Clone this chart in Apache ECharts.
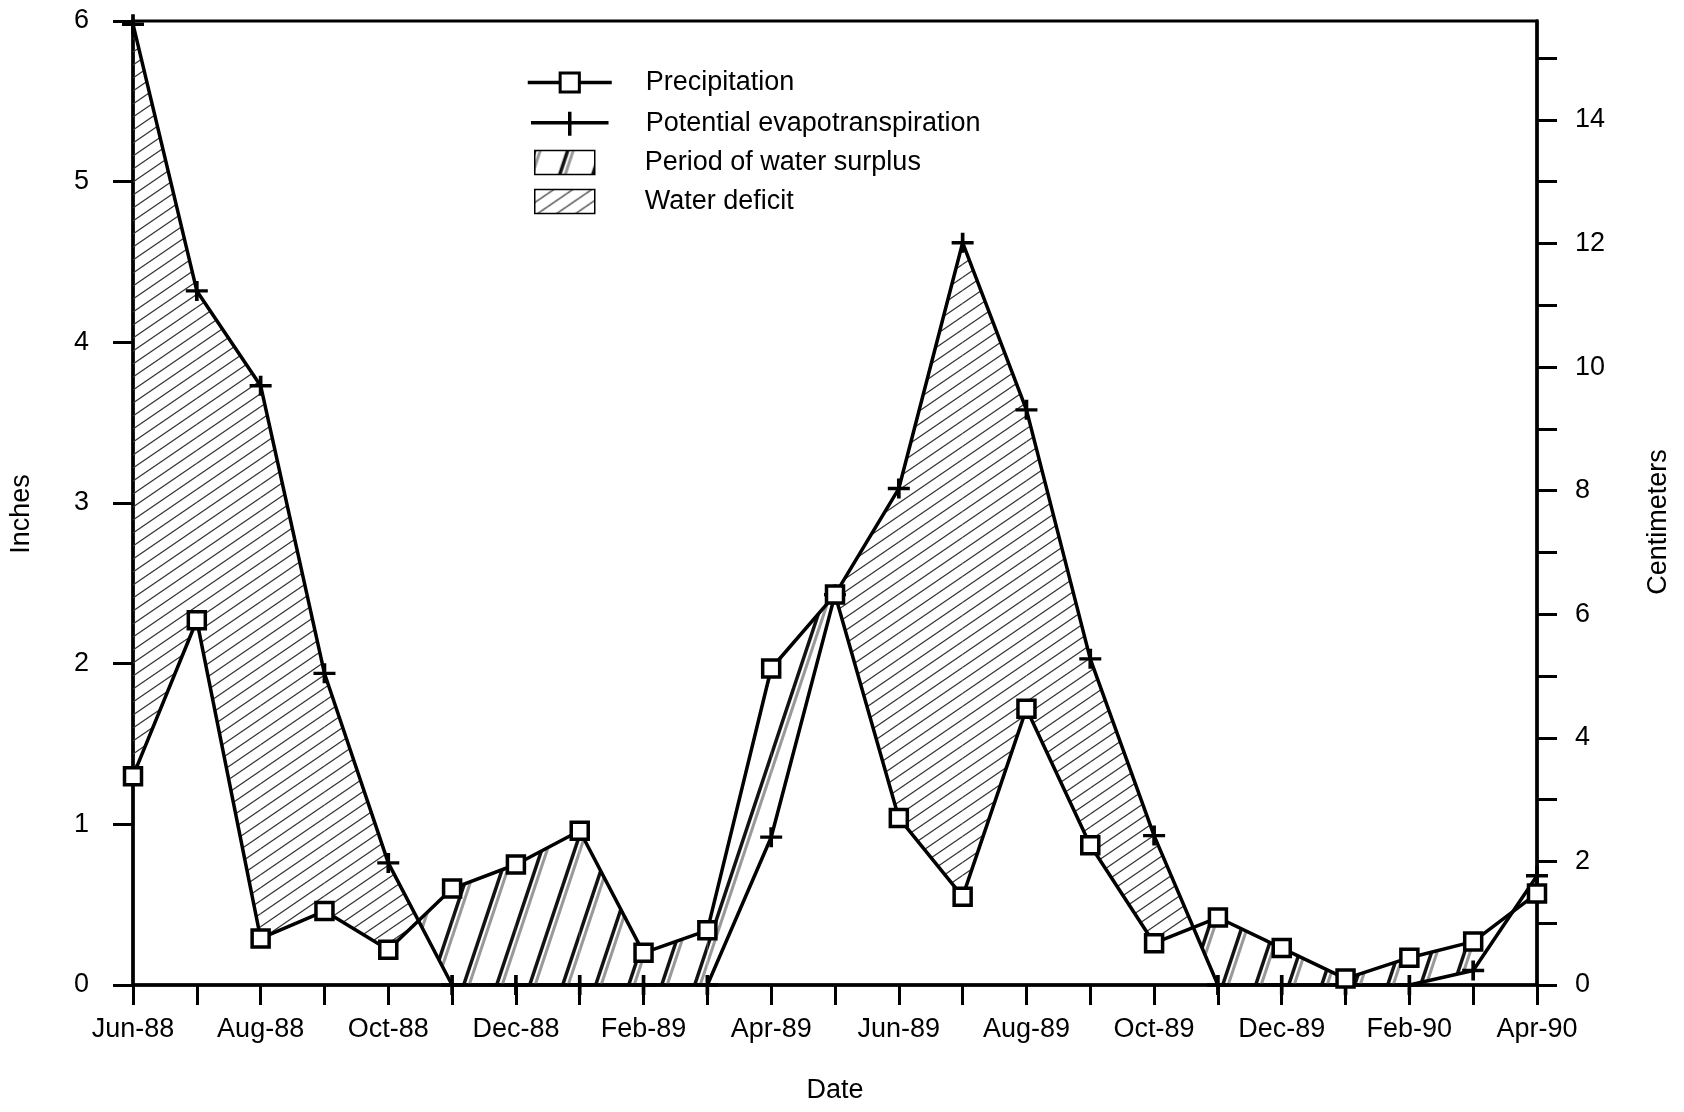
<!DOCTYPE html>
<html>
<head>
<meta charset="utf-8">
<script src="https://cdn.jsdelivr.net/npm/echarts@6/dist/echarts.min.js"></script>
<style>
html, body { margin: 0; padding: 0; background: #fff; }
#chart { width: 1684px; height: 1112px; }
</style>
</head>
<body>
<div id="chart"></div>
<script>
// ---------------- data (inches) ----------------
const months = ['Jun-88','Jul-88','Aug-88','Sep-88','Oct-88','Nov-88','Dec-88','Jan-89','Feb-89','Mar-89','Apr-89','May-89',
                'Jun-89','Jul-89','Aug-89','Sep-89','Oct-89','Nov-89','Dec-89','Jan-90','Feb-90','Mar-90','Apr-90'];
const precipitation = [1.30, 2.27, 0.29, 0.46, 0.22, 0.60, 0.75, 0.96, 0.20, 0.34, 1.97, 2.43,
                       1.04, 0.55, 1.72, 0.87, 0.26, 0.42, 0.23, 0.04, 0.17, 0.27, 0.57];
const evapotranspiration = [5.98, 4.32, 3.73, 1.94, 0.76, 0.00, 0.00, 0.00, 0.00, 0.00, 0.92, 2.43,
                            3.09, 4.62, 3.58, 2.03, 0.93, 0.00, 0.00, 0.00, 0.00, 0.09, 0.68];
const inchTicks = [0, 1, 2, 3, 4, 5, 6];
const cmTicks = [0, 1, 2, 3, 4, 5, 6, 7, 8, 9, 10, 11, 12, 13, 14, 15];
const cmLabels = [0, 2, 4, 6, 8, 10, 12, 14];
const monthLabelIdx = [0, 2, 4, 6, 8, 10, 12, 14, 16, 18, 20, 22];

// ---------------- hatch patterns ----------------
function hatch(w, h, strokes) {
  const c = document.createElement('canvas');
  c.width = w; c.height = h;
  const g = c.getContext('2d');
  strokes.forEach(s => {
    g.strokeStyle = s.color;
    g.lineWidth = s.width;
    for (let k = -3; k <= 3; k++) {
      const x0 = k * w + s.dx;
      g.beginPath();
      g.moveTo(x0 - w, 2 * h);
      g.lineTo(x0 + 2 * w, -h);
      g.stroke();
    }
  });
  return { image: c, repeat: 'repeat' };
}
const deficitFill = hatch(19, 13, [{ color: '#333', width: 1.2, dx: 0 }]);
const surplusFill = hatch(33, 99, [{ color: '#111', width: 3.5, dx: 0 }, { color: '#999', width: 3, dx: 5.5 }]);

function regionRenderer(kind) {
  const want = kind === 'deficit' ? 1 : -1;
  const fill = kind === 'deficit' ? deficitFill : surplusFill;
  const sgn = d => (d > 1e-9 ? 1 : (d < -1e-9 ? -1 : 0));
  return function (params, api) {
    const i = params.dataIndex;
    const p0 = precipitation[i], p1 = precipitation[i + 1];
    const e0 = evapotranspiration[i], e1 = evapotranspiration[i + 1];
    const d0 = e0 - p0, d1 = e1 - p1;
    const polys = [];
    if (sgn(d0) * sgn(d1) >= 0) {
      const s = sgn(d0) || sgn(d1);
      if (s === want) polys.push([[i, p0], [i + 1, p1], [i + 1, e1], [i, e0]]);
    } else {
      const t = d0 / (d0 - d1);
      const xc = i + t, yc = p0 + t * (p1 - p0);
      if (sgn(d0) === want) polys.push([[i, p0], [xc, yc], [i, e0]]);
      if (sgn(d1) === want) polys.push([[xc, yc], [i + 1, p1], [i + 1, e1]]);
    }
    return {
      type: 'group',
      children: polys.map(poly => ({
        type: 'polygon',
        shape: { points: poly.map(pt => api.coord(pt)) },
        style: { fill: fill, stroke: null }
      }))
    };
  };
}

const FONT = 'Liberation Sans';
const FS = 27;
const segData = precipitation.slice(0, -1).map((v, i) => [i, v]);

const chart = echarts.init(document.getElementById('chart'), null, { renderer: 'canvas' });
chart.setOption({
  animation: false,
  backgroundColor: '#fff',
  textStyle: { fontFamily: FONT, color: '#000' },
  grid: {
    left: 133, right: 147, top: 21, bottom: 127,
    show: true, borderColor: '#000', borderWidth: 3, backgroundColor: 'transparent',
    containLabel: false, outerBoundsMode: 'none'
  },
  legend: [
    {
      left: 521, top: 64, orient: 'vertical',
      itemWidth: 84, itemHeight: 24, itemGap: 14,
      data: [
        'Precipitation',
        { name: 'Potential evapotranspiration', icon: 'path://M0,12 L84,12 M42,0 L42,26',
          itemStyle: { color: '#000', borderColor: '#000', borderWidth: 3.5 } }
      ],
      lineStyle: { width: 3.5, color: '#000' },
      itemStyle: { borderWidth: 3 },
      textStyle: { fontFamily: FONT, fontSize: FS, color: '#000', padding: [0, 0, 0, 29] },
      selectedMode: false
    },
    {
      left: 529, top: 144, orient: 'vertical',
      itemWidth: 60, itemHeight: 24, itemGap: 12,
      data: [
        { name: 'Period of water surplus', icon: 'rect', itemStyle: { color: surplusFill, borderColor: '#000', borderWidth: 1.5 } },
        { name: 'Water deficit', icon: 'rect', itemStyle: { color: deficitFill, borderColor: '#000', borderWidth: 1.5 } }
      ],
      textStyle: { fontFamily: FONT, fontSize: FS, color: '#000', padding: [0, 0, 0, 45] },
      selectedMode: false
    }
  ],
  xAxis: {
    type: 'value', min: 0, max: months.length - 1, interval: 1,
    name: 'Date', nameLocation: 'middle', nameGap: 92,
    nameTextStyle: { fontFamily: FONT, fontSize: FS, color: '#000' },
    axisLine: { show: true, onZero: false, lineStyle: { color: '#000', width: 3.5 } },
    axisTick: { show: true, inside: false, length: 20, lineStyle: { color: '#000', width: 3 } },
    axisLabel: {
      margin: 31, fontFamily: FONT, fontSize: FS, color: '#000',
      customValues: monthLabelIdx,
      formatter: v => (v % 2 === 0 ? months[v] : '')
    },
    splitLine: { show: false }
  },
  yAxis: [
    {
      type: 'value', min: 0, max: 6, interval: 1, position: 'left',
      name: 'Inches', nameLocation: 'middle', nameGap: 98, nameRotate: 90,
      nameTextStyle: { fontFamily: FONT, fontSize: FS, color: '#000', padding: [0, 22, 0, 0] },
      axisLine: { show: true, lineStyle: { color: '#000', width: 3.5 } },
      axisTick: { show: true, inside: false, length: 20, lineStyle: { color: '#000', width: 3 }, customValues: inchTicks },
      axisLabel: { margin: 44, fontFamily: FONT, fontSize: FS, color: '#000', customValues: inchTicks },
      splitLine: { show: false }
    },
    {
      type: 'value', min: 0, max: 15.6, interval: 1, position: 'right',
      name: 'Centimeters', nameLocation: 'middle', nameGap: 108, nameRotate: 90,
      nameTextStyle: { fontFamily: FONT, fontSize: FS, color: '#000', padding: [0, 38, 0, 0] },
      axisLine: { show: true, lineStyle: { color: '#000', width: 3.5 } },
      axisTick: { show: true, inside: false, length: 20, lineStyle: { color: '#000', width: 3 }, customValues: cmTicks },
      axisLabel: {
        margin: 38, fontFamily: FONT, fontSize: FS, color: '#000', customValues: cmLabels,
        formatter: v => (cmLabels.indexOf(v) >= 0 ? String(v) : '')
      },
      splitLine: { show: false }
    }
  ],
  series: [
    {
      name: 'Water deficit', type: 'custom', renderItem: regionRenderer('deficit'),
      data: segData, itemStyle: { color: deficitFill }, z: 1, silent: true
    },
    {
      name: 'Period of water surplus', type: 'custom', renderItem: regionRenderer('surplus'),
      data: segData, itemStyle: { color: surplusFill }, z: 1, silent: true
    },
    {
      name: 'Potential evapotranspiration', type: 'line',
      data: evapotranspiration.map((v, i) => [i, v]),
      symbol: 'path://M0,9 L20,9 M10,0 L10,18', symbolSize: [22, 20], showAllSymbol: true,
      lineStyle: { color: '#000', width: 3.5 },
      itemStyle: { color: '#000', borderColor: '#000', borderWidth: 3.5 },
      z: 3
    },
    {
      name: 'Precipitation', type: 'line',
      data: precipitation.map((v, i) => [i, v]),
      symbol: 'rect', symbolSize: 17, showAllSymbol: true,
      lineStyle: { color: '#000', width: 3.5 },
      itemStyle: { color: '#fff', borderColor: '#000', borderWidth: 3.5 },
      z: 4
    }
  ]
});
</script>
</body>
</html>
